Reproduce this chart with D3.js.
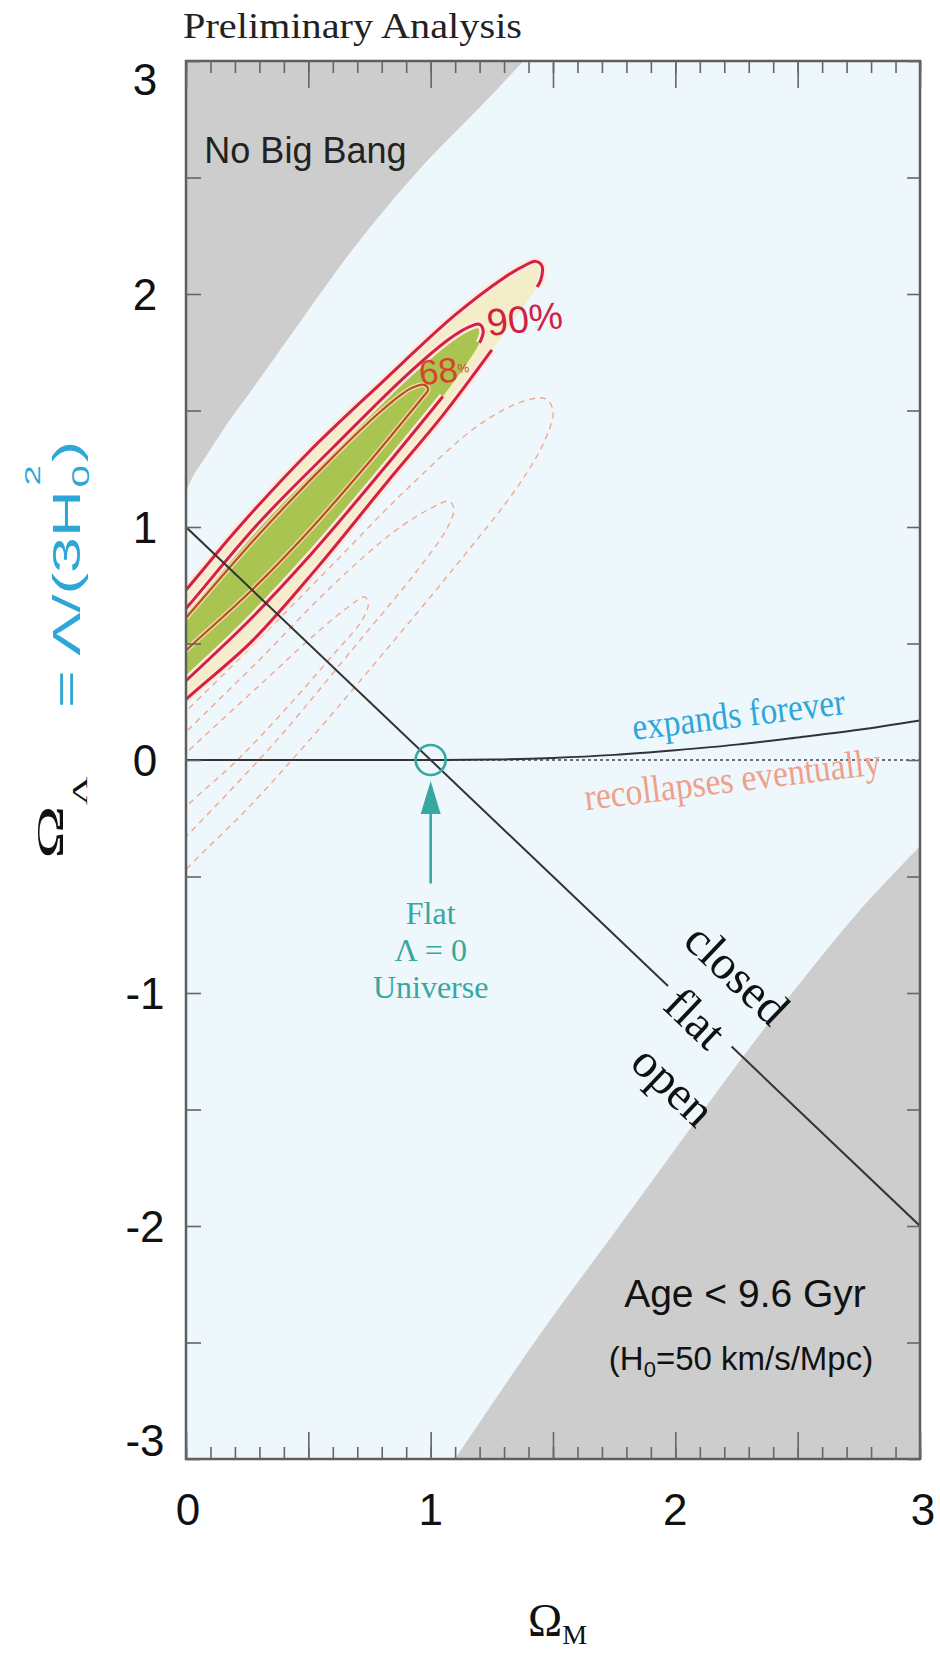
<!DOCTYPE html>
<html>
<head>
<meta charset="utf-8">
<script src="https://cdn.jsdelivr.net/npm/d3@7.9.0/dist/d3.min.js"></script>
<style>
  body { margin: 0; background: #fff; }
  svg { display: block; }
</style>
</head>
<body>
<svg id="chart" width="940" height="1658"></svg>
<script>
const SANS = "'Liberation Sans', Arial, Helvetica, sans-serif";
const SERIF = "'Liberation Serif', 'Times New Roman', Times, serif";

// tick labels
const xTickLabels = [0, 1, 2, 3];
const yTickLabels = [3, 2, 1, 0, -1, -2, -3];

// [Omega_M, Omega_Lambda]
const noBigBangEdge = [[0, 1.15], [0.03, 1.22], [0.08, 1.3], [0.16, 1.43], [0.27, 1.59], [0.48, 1.9],
  [0.68, 2.19], [0.95, 2.53], [1.2, 2.8], [1.38, 3.0]];
const ageEdge = [[1.10, -3], [1.45, -2.46], [1.75, -2.03], [2.0, -1.67], [2.25, -1.31],
  [2.5, -0.97], [2.75, -0.65], [3, -0.37]];

// flat universe line, broken where the "flat" label sits
const flatSegments = [[[0, 1], [1.97, -0.97]], [[2.23, -1.23], [3, -2]]];

// expands forever / recollapses boundary
const expandEdge = [[0, 0], [1, 0], [1.25, 0.002], [1.5, 0.009], [1.75, 0.022], [2, 0.042],
  [2.25, 0.066], [2.5, 0.097], [2.75, 0.13], [3, 0.17]];

// confidence contours (open where the labels are)
const contour90 = [[1.25, 1.76], [1.05, 1.48], [0.82, 1.19], [0.54, 0.83], [0.27, 0.51], [0, 0.26], [-0.15, 0.11],
  [-0.15, 0.56], [0, 0.73], [0.2, 0.98], [0.5, 1.32], [0.8, 1.62], [1.1, 1.91], [1.3, 2.07],
  [1.38, 2.12], [1.43, 2.14], [1.455, 2.12], [1.45, 2.06], [1.435, 2.03]];
const contour68 = [[1.05, 1.56], [0.8, 1.24], [0.5, 0.87], [0.25, 0.59], [0, 0.34], [-0.15, 0.19],
  [-0.15, 0.47], [0, 0.65], [0.3, 1.02], [0.6, 1.34], [0.9, 1.65], [1.08, 1.81],
  [1.16, 1.86], [1.2, 1.87], [1.215, 1.84], [1.2, 1.79]];
const contourInner = [[-0.15, 0.31], [0, 0.47], [0.25, 0.71], [0.5, 0.98], [0.75, 1.28], [0.9, 1.47],
  [0.97, 1.56], [0.99, 1.59], [0.975, 1.61], [0.92, 1.595], [0.8, 1.50], [0.6, 1.30], [0.3, 0.97],
  [0, 0.61], [-0.15, 0.43]];

// dashed contours of the other fit
const dashedOuter = [[-0.15, 0.06], [0, 0.21], [0.3, 0.52], [0.6, 0.84], [0.9, 1.16], [1.2, 1.44],
  [1.38, 1.54], [1.47, 1.55], [1.50, 1.50], [1.47, 1.38], [1.36, 1.18], [1.1, 0.83], [0.8, 0.45],
  [0.5, 0.08], [0.25, -0.21], [0, -0.47], [-0.15, -0.65]];
const dashedMid = [[-0.15, -0.04], [0, 0.12], [0.3, 0.43], [0.6, 0.75], [0.85, 0.98], [1.0, 1.08],
  [1.075, 1.11], [1.095, 1.08], [1.07, 1.0], [0.95, 0.82], [0.7, 0.50], [0.4, 0.12], [0.2, -0.11],
  [0, -0.33], [-0.15, -0.5]];
const dashedInner = [[-0.15, -0.12], [0, 0.03], [0.3, 0.32], [0.55, 0.56], [0.68, 0.67], [0.73, 0.70],
  [0.745, 0.67], [0.72, 0.60], [0.6, 0.45], [0.4, 0.21], [0.2, -0.01], [0, -0.2], [-0.15, -0.36]];

const flatPoint = [1, 0];
const arrowFrom = [1, -0.53];
const arrowTo = [1, -0.09];

const svg = d3.select("#chart");
const margin = { top: 61, right: 20, bottom: 199, left: 186 };
const width = 940, height = 1658;

const x = d3.scaleLinear().domain([0, 3]).range([margin.left, width - margin.right]);
const y = d3.scaleLinear().domain([-3, 3]).range([height - margin.bottom, margin.top]);

const line = d3.line().x(d => x(d[0])).y(d => y(d[1]));
const smooth = d3.line().x(d => x(d[0])).y(d => y(d[1])).curve(d3.curveCatmullRom.alpha(0.5));
const smoothClosed = d3.line().x(d => x(d[0])).y(d => y(d[1])).curve(d3.curveCatmullRomClosed.alpha(0.5));

svg.append("defs").append("clipPath").attr("id", "plot")
  .append("rect").attr("x", x(0)).attr("y", y(3)).attr("width", x(3) - x(0)).attr("height", y(-3) - y(3));

const plot = svg.append("g").attr("clip-path", "url(#plot)");

// background
plot.append("rect").attr("x", x(0)).attr("y", y(3)).attr("width", x(3) - x(0)).attr("height", y(-3) - y(3))
  .attr("fill", "#eef7fb");

// excluded regions: smooth edge, closed through the plot corner
plot.append("path").attr("d", smooth(noBigBangEdge) + `L${x(0)},${y(3)}Z`).attr("fill", "#cdcdcd");
plot.append("path").attr("d", smooth(ageEdge) + `L${x(3)},${y(-3)}Z`).attr("fill", "#cdcdcd");

// dashed contours
[dashedOuter, dashedMid, dashedInner].forEach(c => {
  plot.append("path").datum(c).attr("d", smooth)
    .attr("fill", "none").attr("stroke", "#f2a890").attr("stroke-width", 1.4)
    .attr("stroke-dasharray", "6,5");
});

// filled contours
plot.append("path").datum(contour90).attr("d", smoothClosed).attr("fill", "#f4eec8");
plot.append("path").datum(contour68).attr("d", smoothClosed).attr("fill", "#a9c451");

[contour90, contour68].forEach(c => {
  plot.append("path").datum(c).attr("d", smooth)
    .attr("fill", "none").attr("stroke", "#fde9de").attr("stroke-width", 8);
  plot.append("path").datum(c).attr("d", smooth)
    .attr("fill", "none").attr("stroke", "#d3223f").attr("stroke-width", 3);
});
plot.append("path").datum(contourInner).attr("d", smooth)
  .attr("fill", "none").attr("stroke", "#f3d9a8").attr("stroke-width", 5);
plot.append("path").datum(contourInner).attr("d", smooth)
  .attr("fill", "none").attr("stroke", "#b4521c").attr("stroke-width", 2.2);

// Omega_Lambda = 0 (dotted) and expansion boundary
plot.append("line").attr("x1", x(0)).attr("x2", x(3)).attr("y1", y(0)).attr("y2", y(0))
  .attr("stroke", "#444").attr("stroke-width", 1.6).attr("stroke-dasharray", "3,3");
plot.append("path").datum(expandEdge)
  .attr("d", d3.line().x(d => x(d[0])).y(d => y(d[1])).curve(d3.curveMonotoneX))
  .attr("fill", "none").attr("stroke", "#333").attr("stroke-width", 2);

// flat line
flatSegments.forEach(s => {
  plot.append("path").datum(s).attr("d", line)
    .attr("fill", "none").attr("stroke", "#333").attr("stroke-width", 2);
});

// flat Lambda = 0 marker
const teal = "#36a8a1";
plot.append("circle").attr("cx", x(flatPoint[0])).attr("cy", y(flatPoint[1])).attr("r", 15)
  .attr("fill", "none").attr("stroke", teal).attr("stroke-width", 2.6);
plot.append("line").attr("x1", x(arrowFrom[0])).attr("x2", x(arrowTo[0]))
  .attr("y1", y(arrowFrom[1])).attr("y2", y(arrowTo[1]) + 20)
  .attr("stroke", teal).attr("stroke-width", 2.6);
plot.append("path")
  .attr("d", `M${x(arrowTo[0])},${y(arrowTo[1])} l10,33 l-20,0 Z`)
  .attr("fill", teal);

// annotations
const ann = svg.append("g");
ann.append("text").attr("x", x(0.075)).attr("y", 163).attr("font-family", SANS).attr("font-size", 36)
  .attr("fill", "#222").text("No Big Bang");

ann.append("text").attr("transform", `translate(${x(1.39)},${y(1.837)}) rotate(-6)`)
  .attr("text-anchor", "middle").attr("font-family", SANS).attr("font-size", 38)
  .attr("fill", "#d3223f").text("90%");
const t68 = ann.append("text").attr("transform", `translate(${x(1.06)},${y(1.62)}) rotate(-6)`)
  .attr("text-anchor", "middle").attr("font-family", SANS).attr("fill", "#d8432c");
t68.append("tspan").attr("font-size", 35).text("68");
t68.append("tspan").attr("font-size", 13).attr("dy", -8).text("%");

ann.append("text").attr("transform", "translate(740,727) rotate(-7)").attr("text-anchor", "middle")
  .attr("font-family", SERIF).attr("font-size", 38).attr("fill", "#2ea6d8")
  .attr("textLength", 214).attr("lengthAdjust", "spacingAndGlyphs").text("expands forever");
ann.append("text").attr("transform", "translate(734,792) rotate(-7)").attr("text-anchor", "middle")
  .attr("font-family", SERIF).attr("font-size", 38).attr("fill", "#eea08b")
  .attr("textLength", 298).attr("lengthAdjust", "spacingAndGlyphs").text("recollapses eventually");

["Flat", "\u039B = 0", "Universe"].forEach((s, i) => {
  ann.append("text").attr("x", x(1)).attr("y", 924 + i * 37).attr("text-anchor", "middle")
    .attr("font-family", SERIF).attr("font-size", 32).attr("fill", teal).text(s);
});

const angle = Math.atan2(y(-1) - y(0), x(1) - x(0)) * 180 / Math.PI;
[["closed", 2.25, -0.92], ["flat", 2.08, -1.11], ["open", 1.99, -1.40]].forEach(([s, m, l]) => {
  ann.append("text").attr("transform", `translate(${x(m)},${y(l)}) rotate(${angle})`)
    .attr("text-anchor", "middle").attr("dy", "0.32em")
    .attr("font-family", SERIF).attr("font-size", 48).attr("fill", "#111").text(s);
});

ann.append("text").attr("x", 745).attr("y", 1307).attr("text-anchor", "middle")
  .attr("font-family", SANS).attr("font-size", 39).attr("fill", "#111").text("Age < 9.6 Gyr");
const h0 = ann.append("text").attr("x", 741).attr("y", 1370).attr("text-anchor", "middle")
  .attr("font-family", SANS).attr("font-size", 33).attr("fill", "#111");
h0.append("tspan").text("(H");
h0.append("tspan").attr("font-size", 22).attr("dy", 7).text("0");
h0.append("tspan").attr("dy", -7).text("=50 km/s/Mpc)");

// frame
svg.append("rect").attr("x", x(0)).attr("y", y(3)).attr("width", x(3) - x(0)).attr("height", y(-3) - y(3))
  .attr("fill", "none").attr("stroke", "#5e5e5e").attr("stroke-width", 2.5);

// ticks, pointing inward
const tenths = d3.range(0, 31).map(i => i / 10);
const halves = d3.range(0, 7).map(i => i / 2);
const yHalves = d3.range(-6, 7).map(i => i / 2);
function tickStyle(g) {
  g.select(".domain").remove();
  g.selectAll(".tick line").attr("stroke", "#666").attr("stroke-width", 1.6);
}
svg.append("g").attr("transform", `translate(0,${y(-3)})`)
  .call(d3.axisBottom(x).tickValues(tenths).tickSize(-12).tickFormat("")).call(tickStyle);
svg.append("g").attr("transform", `translate(0,${y(-3)})`)
  .call(d3.axisBottom(x).tickValues(halves).tickSize(-27).tickFormat("")).call(tickStyle);
svg.append("g").attr("transform", `translate(0,${y(3)})`)
  .call(d3.axisTop(x).tickValues(tenths).tickSize(-12).tickFormat("")).call(tickStyle);
svg.append("g").attr("transform", `translate(0,${y(3)})`)
  .call(d3.axisTop(x).tickValues(halves).tickSize(-27).tickFormat("")).call(tickStyle);
svg.append("g").attr("transform", `translate(${x(0)},0)`)
  .call(d3.axisLeft(y).tickValues(yHalves).tickSize(-15).tickFormat("")).call(tickStyle);
svg.append("g").attr("transform", `translate(${x(3)},0)`)
  .call(d3.axisRight(y).tickValues(yHalves).tickSize(-13).tickFormat("")).call(tickStyle);

// tick labels
yTickLabels.forEach(v => {
  const shift = v === 3 ? 18 : v === -3 ? -19 : 0;
  svg.append("text").attr("x", 145).attr("y", y(v) + shift).attr("dy", "0.36em")
    .attr("text-anchor", "middle").attr("font-family", SANS).attr("font-size", 44)
    .attr("fill", "#111").text(v);
});
xTickLabels.forEach(v => {
  svg.append("text").attr("x", x(v) + (v === 0 ? 2 : v === 3 ? 3 : 0)).attr("y", 1525)
    .attr("text-anchor", "middle").attr("font-family", SANS).attr("font-size", 44)
    .attr("fill", "#111").text(v);
});

// titles
svg.append("text").attr("x", 183).attr("y", 38).attr("font-family", SERIF).attr("font-size", 36)
  .attr("fill", "#222").attr("textLength", 339).attr("lengthAdjust", "spacingAndGlyphs")
  .text("Preliminary Analysis");

const xt = svg.append("text").attr("x", 528).attr("y", 1636).attr("font-family", SERIF).attr("fill", "#111");
xt.append("tspan").attr("font-size", 46).text("\u03A9");
xt.append("tspan").attr("font-size", 28).attr("dy", 8).text("M");

const yt1 = svg.append("text").attr("transform", "translate(63,859) rotate(-90) scale(1.9,1)")
  .attr("font-family", SERIF).attr("fill", "#111");
yt1.append("tspan").attr("font-size", 38).text("\u03A9");
yt1.append("tspan").attr("font-size", 21).attr("dy", 24).text("\u039B");

// blue part of the y title, in its own (rotated, stretched) text space
const yt2 = svg.append("g").attr("transform", "translate(80,708) rotate(-90) scale(1.66,1)")
  .attr("font-family", SANS).attr("fill", "#2ea6d8");
yt2.append("text").attr("x", 0).attr("y", 0).attr("font-size", 39).text("= \u039B/(3H");
yt2.append("text").attr("x", 133).attr("y", 9).attr("font-size", 24).text("0");
yt2.append("text").attr("x", 134).attr("y", -40).attr("font-size", 22).text("2");
yt2.append("text").attr("x", 148).attr("y", 0).attr("font-size", 39).text(")");
</script>
</body>
</html>
